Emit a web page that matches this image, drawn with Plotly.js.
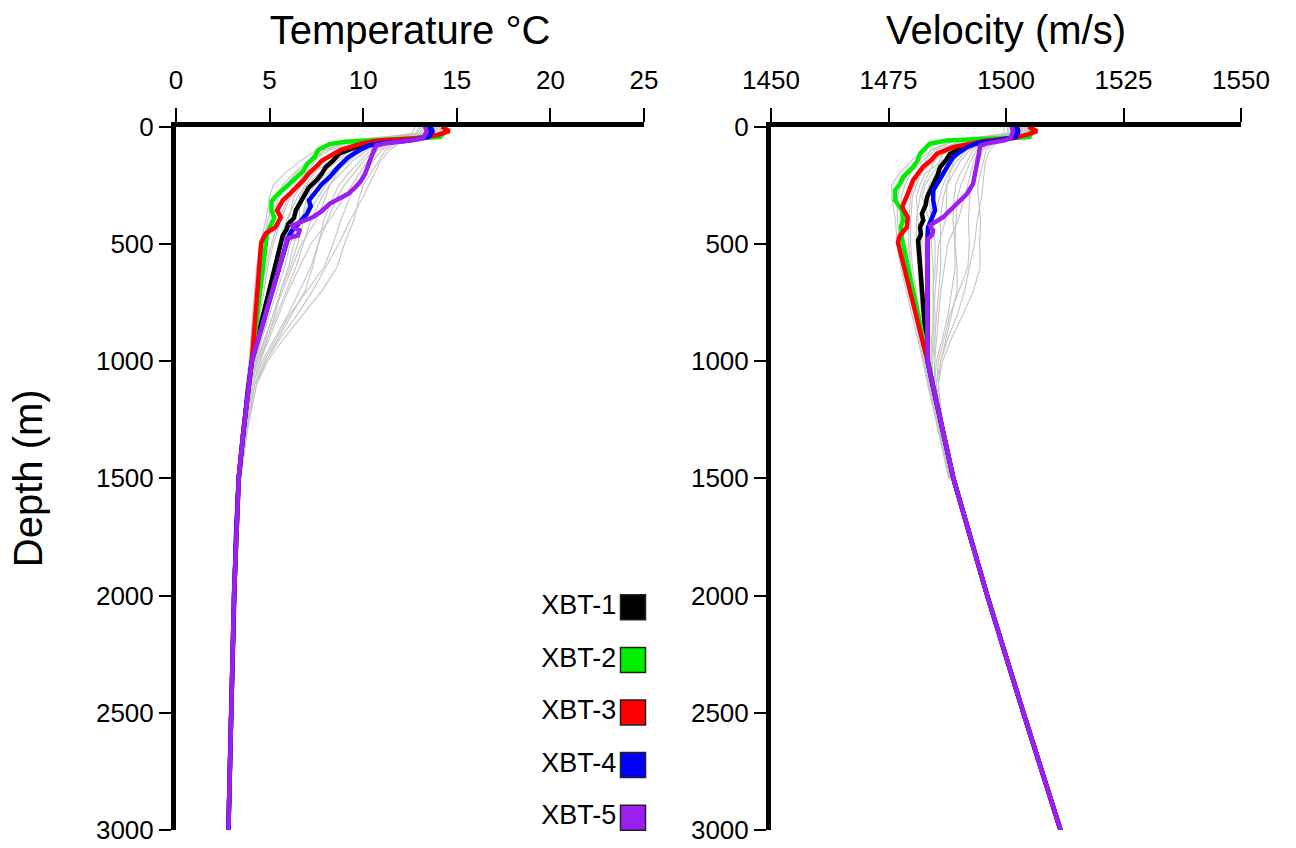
<!DOCTYPE html>
<html>
<head>
<meta charset="utf-8">
<script src="https://cdn.plot.ly/plotly-3.0.1.min.js"></script>
<style>
html,body{margin:0;padding:0;background:#fff;}
#chart{width:1296px;height:848px;}
</style>
</head>
<body>
<div id="chart"></div>
<script>
// ---------------- DATA ----------------
const tempTicks = [0, 5, 10, 15, 20, 25];
const velTicks = [1450, 1475, 1500, 1525, 1550];
const depthTicks = [0, 500, 1000, 1500, 2000, 2500, 3000];

const xbtNames = ["XBT-1", "XBT-2", "XBT-3", "XBT-4", "XBT-5"];
const xbtColors = ["#000000", "#00ee00", "#ff0000", "#0000ff", "#9b1ff0"];

// XBT-1
const xbt1TempDepth = [0, 20, 45, 60, 75, 88, 116, 145, 173, 200, 230, 260, 287, 320, 358, 390, 415, 440, 465];
const xbt1Temp      = [13.5, 13.6, 13.4, 11.8, 10.3, 9.6, 8.7, 8.4, 8.0, 7.8, 7.5, 7.1, 6.9, 6.7, 6.4, 6.3, 6.0, 5.9, 5.7];
const xbt1VelDepth  = [0, 20, 45, 60, 75, 88, 116, 145, 173, 210, 244, 270, 301, 335, 372, 400, 430, 460, 486];
const xbt1Vel       = [1502.3, 1502.6, 1502.3, 1497.5, 1493.0, 1490.9, 1488.1, 1487.2, 1486.0, 1485.4, 1484.5, 1483.9, 1483.2, 1482.9, 1482.1, 1482.4, 1481.7, 1481.9, 1481.3];
// XBT-2
const xbt2TempDepth = [0, 20, 45, 55, 65, 75, 100, 130, 160, 190, 220, 250, 275, 300, 320, 360, 390, 430, 465];
const xbt2Temp      = [14.3, 14.4, 14.1, 11.5, 9.0, 8.2, 7.6, 7.4, 7.0, 6.8, 6.4, 6.0, 5.6, 5.3, 5.1, 5.1, 5.25, 5.0, 4.85];
const xbt2VelDepth  = [0, 20, 45, 55, 60, 73, 116, 145, 173, 216, 245, 273, 315, 358, 400, 430, 456, 472];
const xbt2Vel       = [1505.0, 1505.6, 1505.0, 1495.0, 1487.4, 1483.8, 1481.7, 1481.2, 1480.2, 1478.1, 1477.4, 1476.4, 1476.4, 1477.9, 1478.1, 1477.6, 1477.9, 1477.8];
// XBT-3
const xbt3TempDepth = [0, 20, 35, 50, 60, 73, 100, 120, 145, 170, 200, 230, 258, 285, 315, 358, 387, 430, 456, 494];
const xbt3Temp      = [14.2, 14.6, 14.0, 13.0, 10.8, 9.9, 8.8, 8.4, 7.8, 7.5, 7.1, 6.8, 6.4, 6.1, 5.7, 5.4, 5.6, 5.3, 4.8, 4.55];
const xbt3VelDepth  = [0, 20, 35, 50, 60, 73, 88, 116, 145, 173, 200, 230, 287, 344, 387, 430, 465, 494];
const xbt3Vel       = [1504.8, 1506.6, 1504.5, 1501.5, 1496.0, 1493.0, 1488.7, 1485.3, 1484.0, 1482.3, 1481.4, 1480.2, 1479.1, 1477.9, 1479.1, 1478.9, 1477.4, 1477.0];
// XBT-4
const xbt4TempDepth = [0, 20, 45, 60, 70, 81, 105, 132, 170, 216, 245, 273, 315, 340, 372, 400, 443, 472];
const xbt4Temp      = [13.6, 13.7, 13.5, 12.5, 11.0, 10.3, 9.7, 9.2, 8.7, 8.2, 7.8, 7.5, 7.1, 7.2, 7.0, 6.7, 6.2, 6.0];
const xbt4VelDepth  = [0, 20, 45, 60, 67, 88, 110, 132, 165, 202, 240, 273, 315, 358, 387, 430, 472];
const xbt4Vel       = [1502.0, 1502.5, 1502.0, 1498.0, 1494.5, 1491.7, 1490.1, 1488.7, 1487.7, 1486.6, 1485.5, 1484.5, 1484.5, 1484.9, 1484.3, 1483.4, 1483.3];
// XBT-5
const xbt5TempDepth = [0, 20, 50, 60, 72, 81, 116, 160, 202, 230, 258, 287, 330, 360, 387, 422, 432, 443, 465, 478, 494];
const xbt5Temp      = [13.3, 13.4, 13.2, 12.5, 11.2, 10.7, 10.5, 10.3, 10.1, 9.9, 9.6, 9.2, 8.2, 7.8, 7.3, 6.2, 6.3, 6.6, 6.5, 5.9, 5.9];
const xbt5VelDepth  = [0, 20, 50, 60, 72, 81, 120, 158, 200, 244, 287, 330, 360, 387, 422, 432, 443, 465, 478, 494];
const xbt5Vel       = [1501.2, 1501.5, 1501.0, 1499.5, 1496.0, 1494.5, 1494.2, 1493.8, 1493.5, 1493.0, 1491.7, 1489.6, 1488.2, 1486.6, 1483.8, 1484.0, 1484.5, 1484.2, 1483.4, 1483.2];

// common deep extension shared by all XBT casts
const tailDepth = [1000, 1150, 1300, 1500, 1750, 2000, 2500, 3000];
const tailTemp  = [4.05, 3.8, 3.6, 3.35, 3.2, 3.1, 2.95, 2.8];
const tailVel   = [1483.3, 1484.9, 1486.6, 1488.8, 1492.4, 1496.0, 1503.7, 1511.6];

// historical profiles (grey)
const greyDepth = [0, 30, 60, 100, 150, 200, 250, 300, 400, 500, 600, 700, 800, 900, 1000, 1100, 1300, 1500];
const greyTemp = [
  [13.2, 13.0, 9.0, 7.5, 6.6, 5.8, 5.2, 5.0, 4.8, 4.5, 4.3, 4.2, 4.1, 4.0, 3.9, 3.75, 3.55, 3.35],
  [13.5, 13.3, 10.0, 8.2, 7.2, 6.4, 5.9, 5.5, 5.1, 4.8, 4.6, 4.4, 4.3, 4.15, 4.0, 3.85, 3.6, 3.35],
  [13.8, 13.6, 10.5, 9.0, 7.8, 7.0, 6.5, 6.1, 5.6, 5.2, 4.9, 4.7, 4.5, 4.3, 4.1, 3.9, 3.6, 3.35],
  [14.0, 13.8, 11.0, 9.6, 8.6, 7.8, 7.2, 6.8, 6.2, 5.8, 5.4, 5.0, 4.7, 4.45, 4.2, 3.95, 3.65, 3.4],
  [14.5, 14.2, 12.0, 11.2, 10.8, 10.4, 10.0, 9.8, 9.5, 9.0, 8.6, 7.8, 6.8, 5.8, 4.9, 4.3, 3.8, 3.45],
  [14.3, 14.0, 11.5, 10.6, 10.0, 9.5, 9.0, 8.6, 8.1, 7.6, 7.2, 6.6, 6.0, 5.3, 4.6, 4.1, 3.7, 3.4],
  [13.9, 13.7, 11.2, 10.2, 9.4, 8.8, 8.2, 7.8, 7.2, 6.8, 6.4, 5.9, 5.4, 4.9, 4.4, 4.0, 3.65, 3.4],
  [13.6, 13.4, 10.8, 9.4, 8.4, 7.6, 7.0, 6.6, 6.6, 6.0, 5.6, 5.2, 4.9, 4.6, 4.25, 3.95, 3.6, 3.35],
  [13.0, 12.8, 10.2, 8.6, 7.9, 7.4, 6.9, 6.5, 5.9, 5.5, 5.2, 4.9, 4.6, 4.4, 4.15, 3.9, 3.6, 3.35],
  [14.1, 13.9, 11.8, 10.8, 10.2, 9.8, 9.4, 9.0, 8.2, 7.2, 6.6, 6.0, 5.5, 5.0, 4.5, 4.1, 3.7, 3.4],
  [13.4, 13.2, 9.6, 8.0, 7.0, 6.3, 5.7, 5.3, 4.9, 4.65, 4.45, 4.3, 4.2, 4.05, 3.95, 3.8, 3.55, 3.3],
  [14.2, 14.0, 11.4, 10.0, 9.2, 8.5, 8.0, 7.6, 6.8, 6.5, 6.1, 5.6, 5.2, 4.8, 4.35, 4.0, 3.65, 3.4],
  [13.7, 13.5, 10.6, 9.6, 9.0, 8.6, 8.2, 8.0, 7.5, 6.7, 6.2, 5.7, 5.2, 4.75, 4.3, 4.0, 3.65, 3.4],
  [12.8, 12.6, 9.8, 8.8, 8.2, 7.8, 7.6, 7.3, 6.6, 6.1, 5.8, 5.4, 5.0, 4.6, 4.2, 3.95, 3.6, 3.35],
  [14.4, 14.1, 11.9, 11.0, 10.5, 10.0, 9.6, 9.3, 8.8, 8.4, 7.9, 7.0, 6.1, 5.4, 4.7, 4.2, 3.75, 3.45],
  [13.3, 13.1, 9.4, 7.9, 7.4, 6.9, 6.4, 6.0, 5.5, 5.1, 4.8, 4.55, 4.35, 4.2, 4.05, 3.85, 3.6, 3.35],
  [14.0, 13.8, 11.3, 10.4, 9.8, 9.2, 8.7, 8.4, 7.9, 7.6, 7.3, 6.9, 6.2, 5.5, 4.8, 4.2, 3.75, 3.45],
  [13.9, 13.6, 10.9, 9.8, 8.9, 8.1, 7.4, 7.0, 6.7, 6.3, 6.0, 5.6, 5.3, 4.9, 4.5, 4.1, 3.7, 3.4],
  [13.1, 12.9, 10.4, 9.2, 8.3, 7.2, 6.7, 6.3, 6.0, 5.7, 5.4, 5.1, 4.8, 4.5, 4.2, 3.95, 3.6, 3.35],
  [14.3, 14.1, 12.2, 11.4, 10.9, 10.6, 10.3, 10.0, 9.3, 8.7, 8.0, 7.3, 6.5, 5.6, 4.8, 4.3, 3.8, 3.45]
];
const greyVel = [
  [1501.0, 1500.9, 1487.4, 1482.3, 1479.7, 1477.3, 1475.7, 1475.7, 1476.5, 1476.8, 1477.6, 1478.8, 1480.0, 1481.1, 1482.3, 1483.3, 1485.6, 1488.0],
  [1502.0, 1501.8, 1491.0, 1485.0, 1482.0, 1479.7, 1478.5, 1477.7, 1477.7, 1478.1, 1478.8, 1479.6, 1480.8, 1481.8, 1482.7, 1483.7, 1485.9, 1488.0],
  [1503.0, 1502.8, 1492.8, 1488.0, 1484.3, 1482.0, 1480.9, 1480.1, 1479.7, 1479.7, 1480.1, 1480.8, 1481.6, 1482.4, 1483.2, 1483.9, 1485.9, 1488.0],
  [1503.6, 1503.5, 1494.5, 1490.2, 1487.3, 1485.1, 1483.6, 1482.9, 1482.1, 1482.1, 1482.1, 1482.1, 1482.4, 1483.0, 1483.6, 1484.1, 1486.1, 1488.2],
  [1505.2, 1504.8, 1498.0, 1495.8, 1495.2, 1494.6, 1494.0, 1494.1, 1494.6, 1494.4, 1494.5, 1493.1, 1490.9, 1488.5, 1486.5, 1485.6, 1486.7, 1488.4],
  [1504.6, 1504.1, 1496.3, 1493.7, 1492.4, 1491.4, 1490.4, 1489.7, 1489.4, 1489.1, 1489.2, 1488.5, 1487.7, 1486.5, 1485.2, 1484.8, 1486.3, 1488.2],
  [1503.3, 1503.2, 1495.2, 1492.3, 1490.2, 1488.8, 1487.4, 1486.7, 1486.0, 1486.1, 1486.1, 1485.7, 1485.3, 1484.9, 1484.4, 1484.3, 1486.1, 1488.2],
  [1502.3, 1502.2, 1493.8, 1489.4, 1486.6, 1484.3, 1482.8, 1482.1, 1483.7, 1482.9, 1482.9, 1482.9, 1483.3, 1483.6, 1483.8, 1484.1, 1485.9, 1488.0],
  [1500.4, 1500.2, 1491.7, 1486.5, 1484.7, 1483.6, 1482.4, 1481.7, 1480.9, 1480.9, 1481.3, 1481.7, 1482.0, 1482.8, 1483.4, 1483.9, 1485.9, 1488.0],
  [1504.0, 1503.8, 1497.3, 1494.4, 1493.1, 1492.5, 1491.8, 1491.2, 1489.8, 1487.6, 1486.9, 1486.1, 1485.7, 1485.3, 1484.8, 1484.8, 1486.3, 1488.2],
  [1501.7, 1501.5, 1489.6, 1484.2, 1481.2, 1479.3, 1477.7, 1476.9, 1476.9, 1477.4, 1478.2, 1479.2, 1480.4, 1481.4, 1482.5, 1483.5, 1485.6, 1487.8],
  [1504.3, 1504.1, 1495.9, 1491.6, 1489.5, 1487.7, 1486.6, 1485.9, 1484.5, 1484.9, 1484.9, 1484.5, 1484.5, 1484.5, 1484.2, 1484.3, 1486.1, 1488.2],
  [1502.7, 1502.5, 1493.1, 1490.2, 1488.8, 1488.1, 1487.4, 1487.4, 1487.1, 1485.7, 1485.3, 1484.9, 1484.5, 1484.2, 1484.0, 1484.3, 1486.1, 1488.2],
  [1499.7, 1499.5, 1490.3, 1487.2, 1485.8, 1485.1, 1485.1, 1484.8, 1483.7, 1483.3, 1483.7, 1483.7, 1483.7, 1483.6, 1483.6, 1484.1, 1485.9, 1488.0],
  [1504.9, 1504.5, 1497.7, 1495.1, 1494.2, 1493.2, 1492.6, 1492.3, 1492.0, 1492.2, 1491.9, 1490.0, 1488.1, 1486.9, 1485.6, 1485.2, 1486.5, 1488.4],
  [1501.3, 1501.2, 1488.8, 1483.9, 1482.8, 1481.6, 1480.5, 1479.7, 1479.3, 1479.3, 1479.7, 1480.2, 1481.0, 1482.0, 1483.0, 1483.7, 1485.9, 1488.0],
  [1503.6, 1503.5, 1495.6, 1493.0, 1491.7, 1490.3, 1489.3, 1489.0, 1488.7, 1489.1, 1489.6, 1489.6, 1488.5, 1487.3, 1486.1, 1485.2, 1486.5, 1488.4],
  [1503.3, 1502.8, 1494.2, 1490.9, 1488.4, 1486.2, 1484.4, 1483.6, 1484.1, 1484.1, 1484.5, 1484.5, 1484.9, 1484.9, 1484.8, 1484.8, 1486.3, 1488.2],
  [1500.7, 1500.5, 1492.4, 1488.7, 1486.2, 1482.8, 1481.7, 1480.9, 1481.3, 1481.7, 1482.1, 1482.5, 1482.9, 1483.2, 1483.6, 1484.1, 1485.9, 1488.0],
  [1504.6, 1504.5, 1498.7, 1496.5, 1495.6, 1495.3, 1495.1, 1494.8, 1493.9, 1493.3, 1492.2, 1491.2, 1489.7, 1487.7, 1486.1, 1485.6, 1486.7, 1488.4]
];

// ---------------- BUILD ----------------
const FONT = '"Liberation Sans", Arial, Helvetica, sans-serif';
const xbtTempDepths = [xbt1TempDepth, xbt2TempDepth, xbt3TempDepth, xbt4TempDepth, xbt5TempDepth];
const xbtTemps = [xbt1Temp, xbt2Temp, xbt3Temp, xbt4Temp, xbt5Temp];
const xbtVelDepths = [xbt1VelDepth, xbt2VelDepth, xbt3VelDepth, xbt4VelDepth, xbt5VelDepth];
const xbtVels = [xbt1Vel, xbt2Vel, xbt3Vel, xbt4Vel, xbt5Vel];

const traces = [];
greyTemp.forEach((t, i) => {
  traces.push({x: t, y: greyDepth, xaxis: 'x', yaxis: 'y', type: 'scatter', mode: 'lines',
    line: {color: '#c4c4c4', width: 1.1}, hoverinfo: 'skip', showlegend: false});
  traces.push({x: greyVel[i], y: greyDepth, xaxis: 'x2', yaxis: 'y2', type: 'scatter', mode: 'lines',
    line: {color: '#c4c4c4', width: 1.1}, hoverinfo: 'skip', showlegend: false});
});
xbtNames.forEach((name, i) => {
  traces.push({name: name, x: xbtTemps[i].concat(tailTemp), y: xbtTempDepths[i].concat(tailDepth),
    xaxis: 'x', yaxis: 'y', type: 'scatter', mode: 'lines',
    line: {color: xbtColors[i], width: 4.5}, showlegend: false});
  traces.push({name: name, x: xbtVels[i].concat(tailVel), y: xbtVelDepths[i].concat(tailDepth),
    xaxis: 'x2', yaxis: 'y2', type: 'scatter', mode: 'lines',
    line: {color: xbtColors[i], width: 4.5}, showlegend: false});
});
// legend: label followed by colour swatch
traces.push({
  x: xbtNames.map(() => 0), y: xbtNames.map((n, i) => i), text: xbtNames,
  xaxis: 'x3', yaxis: 'y3', type: 'scatter', mode: 'markers+text', textposition: 'middle left',
  marker: {symbol: 'square', size: 25, color: xbtColors, line: {color: '#222', width: 1.5}},
  textfont: {family: FONT, size: 27, color: '#000'}, cliponaxis: false, hoverinfo: 'skip', showlegend: false
});

const axisBase = {
  showline: true, linecolor: '#000', linewidth: 5, ticks: 'outside', ticklen: 14, tickwidth: 2,
  tickcolor: '#000', showgrid: false, zeroline: false, fixedrange: true,
  tickfont: {family: FONT, size: 26, color: '#000'}
};
const yDomain = [18 / 848, 721.5 / 848];
const layout = {
  width: 1296, height: 848, margin: {l: 0, r: 0, t: 0, b: 0},
  paper_bgcolor: '#fff', plot_bgcolor: 'rgba(0,0,0,0)', showlegend: false,
  font: {family: FONT, color: '#000'},
  xaxis: Object.assign({}, axisBase, {domain: [176 / 1296, 644 / 1296], range: [0, 25], side: 'top',
    anchor: 'y', tickvals: tempTicks, ticklabelstandoff: 8,
    title: {text: 'Temperature °C', font: {family: FONT, size: 40, color: '#000'}, standoff: 10}}),
  yaxis: Object.assign({}, axisBase, {domain: yDomain, range: [3000, 0], anchor: 'x',
    tickvals: depthTicks, ticklen: 12,
    title: {text: 'Depth (m)', font: {family: FONT, size: 40, color: '#000'}, standoff: 42}}),
  xaxis2: Object.assign({}, axisBase, {domain: [771 / 1296, 1241 / 1296], range: [1450, 1550], side: 'top',
    anchor: 'y2', tickvals: velTicks, ticklabelstandoff: 8,
    title: {text: 'Velocity (m/s)', font: {family: FONT, size: 40, color: '#000'}, standoff: 10}}),
  yaxis2: Object.assign({}, axisBase, {domain: yDomain, range: [3000, 0], anchor: 'x2',
    tickvals: depthTicks, ticklen: 12}),
  xaxis3: {domain: [600 / 1296, 666 / 1296], range: [-1, 1], visible: false, anchor: 'y3', fixedrange: true},
  yaxis3: {domain: [4 / 848, 267 / 848], range: [4.5, -0.5], visible: false, anchor: 'x3', fixedrange: true}
};

Plotly.newPlot('chart', traces, layout, {displayModeBar: false, staticPlot: true});
</script>
</body>
</html>
